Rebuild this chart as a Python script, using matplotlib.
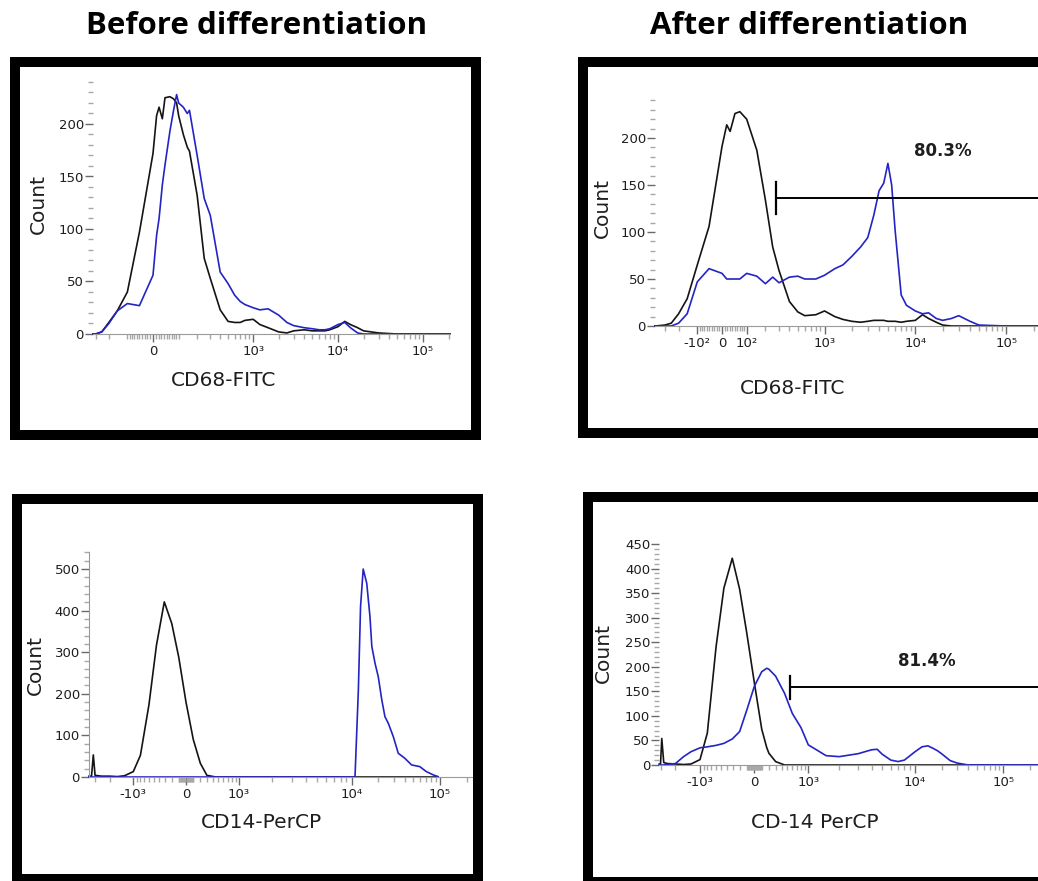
import numpy as np
import matplotlib
matplotlib.use("Agg")
import matplotlib.pyplot as plt
from matplotlib.patches import Rectangle
from matplotlib.ticker import FixedLocator, FixedFormatter, NullFormatter

plt.rcParams['font.family'] = ['DejaVu Sans']

W, H = 1038, 881

# ---- values (fluorescence, count) ----
# top left: CD68-FITC, before differentiation
cd68_pre_x = [-325, -300, -250, -200, -150, -100, -50, 0, 13, 22, 34, 44, 63, 78, 91, 100,
              122, 142, 154, 200, 250, 300, 400, 500, 600, 700, 800, 1000, 1200, 1500, 2000,
              2500, 3000, 4000, 5000, 6000, 7000, 8000, 10000, 12000, 14000, 17000, 20000,
              30000, 50000, 100000, 208000]
cd68_pre_ctrl = [0, 0, 2, 11, 22, 40, 97, 172, 208, 216, 205, 225, 226, 224, 220, 208,
                 190, 178, 174, 132, 72, 53, 23, 12, 11, 11, 13, 14, 9, 6, 2,
                 1, 3, 4, 3, 3, 3, 4, 7, 12, 9, 6, 3,
                 1, 0, 0, 0]
cd68_pre_stain = [0, 0, 2, 10, 22, 29, 27, 56, 94, 110, 142, 161, 193, 213, 228, 220,
                  216, 210, 213, 170, 129, 113, 59, 48, 37, 31, 28, 25, 23, 24, 18,
                  11, 8, 6, 5, 4, 4, 5, 9, 11, 6, 1, 0,
                  0, 0, 0, 0]

# top right: CD68-FITC, after differentiation
cd68_post_x = [-395, -300, -250, -200, -150, -100, -50, 0, 18, 31, 41, 50, 70, 100, 150, 200,
               250, 300, 400, 500, 600, 800, 1000, 1300, 1600, 2000, 2500, 3000, 3500, 4000,
               4500, 5000, 5500, 6000, 7000, 8000, 10000, 12000, 14000, 17000, 20000, 25000,
               30000, 40000, 50000, 100000, 262000]
cd68_post_ctrl = [0, 1, 3, 13, 29, 65, 106, 191, 214, 207, 217, 226, 228, 220, 187, 134,
                  84, 59, 26, 15, 11, 12, 16, 10, 7, 5, 4, 5, 6, 6,
                  6, 5, 5, 5, 4, 5, 6, 12, 8, 4, 1, 0,
                  0, 0, 0, 0, 0]
cd68_post_stain = [0, 0, 0, 3, 13, 47, 61, 56, 50, 50, 50, 50, 50, 56, 53, 45,
                   52, 46, 52, 53, 50, 50, 54, 61, 65, 74, 84, 94, 118, 144,
                   152, 173, 150, 102, 33, 22, 16, 13, 14, 8, 6, 8,
                   11, 5, 1, 0, 0]
cd68_post_gate = [275, 262000]
cd68_post_gate_y = 136
cd68_post_pct = "80.3%"

# bottom left: CD14-PerCP, before differentiation
cd14_pre_ctrl_x = [-3550, -3310, -3150, -3000, -2500, -2000, -1600, -1300, -1000, -800, -600,
                   -450, -315, -200, -100, 0, 100, 200, 300, 450, 600, 1000, 10000, 95000]
cd14_pre_ctrl = [2, 2, 53, 4, 2, 2, 1, 3, 13, 52, 173,
                 317, 421, 369, 288, 180, 90, 33, 4, 0, 0, 0, 0, 0]
cd14_pre_stain_x = [-3550, 10000, 10900, 11900, 12600, 13500, 14800, 16100, 16900, 18400, 20000,
                    21900, 23800, 26000, 29600, 33700, 40000, 47700, 59000, 70000, 84000, 95000]
cd14_pre_stain = [0, 0, 0, 209, 410, 500, 466, 386, 314, 273, 241,
                  186, 145, 129, 97, 57, 45, 29, 25, 13, 5, 1]

# bottom right: CD-14 PerCP, after differentiation
cd14_post_x = [-3100, -3000, -2900, -2750, -2500, -2000, -1600, -1300, -1000, -800, -600, -450,
               -310, -200, -100, 0, 100, 170, 200, 300, 450, 600, 800, 1000, 1500, 2000, 3000,
               4000, 4500, 5000, 6000, 7000, 8000, 10000, 12000, 14000, 16000, 18000, 20000,
               25000, 30000, 40000, 50000, 100000, 262144]
cd14_post_ctrl = [2, 2, 54, 5, 3, 2, 1, 2, 11, 65, 241, 360,
                  421, 358, 268, 168, 73, 35, 24, 7, 0, 0, 0, 0, 0, 0, 0,
                  0, 0, 0, 0, 0, 0, 0, 0, 0, 0, 0, 0,
                  0, 0, 0, 0, 0, 0]
cd14_post_stain = [0, 0, 0, 0, 1, 3, 17, 27, 35, 37, 40, 44,
                   53, 68, 112, 160, 190, 197, 195, 181, 146, 105, 76, 41, 19, 17, 23,
                   31, 32, 22, 10, 7, 10, 27, 37, 39, 34, 29, 23,
                   9, 4, 0, 0, 0, 0]
cd14_post_gate = [552, 262144]
cd14_post_gate_y = 158
cd14_post_pct = "81.4%"

BLACK = '#141414'
BLUE = '#2424c4'
TXT = '#1e1e1e'

fig = plt.figure(figsize=(W / 100, H / 100), dpi=100)


def biex(c, knots):
    # asinh-like display transform, pinned to where the decades sit on each plot
    u = np.arcsinh(np.array([k[0] for k in knots], float) / c)
    p = np.array([k[1] for k in knots], float)
    s0 = (p[1] - p[0]) / (u[1] - u[0])
    s1 = (p[-1] - p[-2]) / (u[-1] - u[-2])
    u = np.r_[u[0] - 40, u, u[-1] + 40]
    p = np.r_[p[0] - 40 * s0, p, p[-1] + 40 * s1]
    fwd = lambda v: np.interp(np.arcsinh(np.asarray(v, float) / c), u, p)
    inv = lambda q: c * np.sinh(np.interp(np.asarray(q, float), p, u))
    return fwd, inv


def box_px(x0, y0, x1, y1):
    fig.add_artist(Rectangle((x0 / W, 1 - y1 / H), (x1 - x0) / W, (y1 - y0) / H,
                             transform=fig.transFigure, fc='black', ec='none'))


def frame(x0, y0, x1, y1, t=10):
    box_px(x0, y0, x1, y0 + t)
    box_px(x0, y1 - t, x1, y1)
    box_px(x0, y0, x0 + t, y1)
    box_px(x1 - t, y0, x1, y1)


def ftext(x, y, s, **kw):
    fig.text(x / W, 1 - y / H, s, ha='center', va='center', **kw)


def panel(box, c, knots, ytop, ymaj, ystep, xmaj, xlab, xmin, yspine=False):
    l, r, t, b = box
    ax = fig.add_axes([l / W, 1 - b / H, (r - l) / W, (b - t) / H])
    ax.set_xscale('function', functions=biex(c, knots))
    ax.set_xlim(knots[0][0], knots[-1][0])
    ax.set_ylim(0, ytop)
    ax.patch.set_alpha(0)
    for s in ['top', 'right']:
        ax.spines[s].set_visible(False)
    ax.spines['left'].set_visible(yspine)
    ax.spines['left'].set_color('#9a9a9a')
    ax.spines['bottom'].set_color('#9a9a9a')
    ax.xaxis.set_major_locator(FixedLocator(xmaj))
    ax.xaxis.set_major_formatter(FixedFormatter(xlab))
    ax.xaxis.set_minor_locator(FixedLocator(xmin))
    ax.xaxis.set_minor_formatter(NullFormatter())
    ax.yaxis.set_major_locator(FixedLocator(ymaj))
    ax.yaxis.set_minor_locator(FixedLocator(np.arange(0, ytop + 1, ystep)))
    ax.yaxis.set_minor_formatter(NullFormatter())
    ax.tick_params(which='major', length=5.5, width=1.0, color='#6a6a6a',
                   labelsize=9.5, labelcolor=TXT)
    ax.tick_params(which='minor', length=3.5, width=1.0, color='#a8a8a8')
    ax.tick_params(axis='x', which='major', pad=2.5)
    ax.tick_params(axis='y', which='major', pad=1.0)
    return ax


lin = [s * v for v in range(10, 100, 10) for s in (-1, 1)]
logs = [m * 10 ** e for e in (2, 3, 4) for m in range(2, 10)] + [200000]
neg = [-v for v in range(100, 1000, 100)]

frame(10, 57, 481, 440)
frame(578, 57, 1070, 438)
frame(12, 494, 483, 884)
frame(583, 492, 1070, 887)

ftext(257, 26, 'Before differentiation', fontsize=22.5, fontweight='bold',
      family=['Open Sans', 'Lato', 'DejaVu Sans'])
ftext(809, 26, 'After differentiation', fontsize=22.5, fontweight='bold',
      family=['Open Sans', 'Lato', 'DejaVu Sans'])

# top left
ax1 = panel((93, 450, 82, 334), 133, [(-325, 93), (0, 153), (208000, 450)], 240,
            [0, 50, 100, 150, 200], 10, [0, 1000, 10000, 100000],
            ['0', '10³', '10⁴', '10⁵'], [-300, -200, -100, 100] + lin + logs)
ax1.plot(cd68_pre_x, cd68_pre_ctrl, color=BLACK, lw=1.2, clip_on=False)
ax1.plot(cd68_pre_x, cd68_pre_stain, color=BLUE, lw=1.2, clip_on=False)
ftext(224, 380, 'CD68-FITC', fontsize=14.5, color=TXT)
ftext(38, 204, 'Count', fontsize=14.5, rotation=90, color=TXT)

# top right
ax2 = panel((655, 1044.3, 100.4, 326), 150, [(-395, 655), (0, 722), (262144, 1044.3)], 240,
            [0, 50, 100, 150, 200], 10, [-100, 0, 100, 1000, 10000, 100000],
            ['-10²', '0', '10²', '10³', '10⁴', '10⁵'], [-300, -200] + lin + logs)
ax2.plot(cd68_post_x, cd68_post_ctrl, color=BLACK, lw=1.2, clip_on=False)
ax2.plot(cd68_post_x, cd68_post_stain, color=BLUE, lw=1.2, clip_on=False)
ax2.plot(cd68_post_gate, [cd68_post_gate_y] * 2, color='black', lw=1.4)
ax2.plot([cd68_post_gate[0]] * 2, [cd68_post_gate_y - 17, cd68_post_gate_y + 17],
         color='black', lw=1.6)
ftext(943, 151, cd68_post_pct, fontsize=12, fontweight='bold', color=TXT)
ftext(793, 388, 'CD68-FITC', fontsize=14.5, color=TXT)
ftext(602, 208, 'Count', fontsize=14.5, rotation=90, color=TXT)

# bottom left
ax3 = panel((89, 472, 552.4, 777), 500,
            [(-3550, 89), (-1000, 133.3), (0, 186), (1000, 239), (10000, 351.7),
             (100000, 440), (230000, 472)], 540,
            [0, 100, 200, 300, 400, 500], 20, [-1000, 0, 1000, 10000, 100000],
            ['-10³', '0', '10³', '10⁴', '10⁵'],
            [-3000, -2000] + neg + lin + [100] + logs, yspine=True)
ax3.plot(cd14_pre_ctrl_x, cd14_pre_ctrl, color=BLACK, lw=1.2, clip_on=False)
ax3.plot(cd14_pre_stain_x, cd14_pre_stain, color=BLUE, lw=1.2, clip_on=False)
ftext(262, 823, 'CD14-PerCP', fontsize=14.5, color=TXT)
ftext(35, 665, 'Count', fontsize=14.5, rotation=90, color=TXT)

# bottom right
ax4 = panel((659.3, 1040.3, 544, 765), 500,
            [(-3100, 659.3), (-1000, 700), (0, 754.3), (1000, 808.3), (10000, 915),
             (100000, 1003.3), (262144, 1040.3)], 450,
            [0, 50, 100, 150, 200, 250, 300, 350, 400, 450], 10,
            [-1000, 0, 1000, 10000, 100000], ['-10³', '0', '10³', '10⁴', '10⁵'],
            [-3000, -2000] + neg + lin + [100] + logs)
ax4.plot(cd14_post_x, cd14_post_ctrl, color=BLACK, lw=1.2, clip_on=False)
ax4.plot(cd14_post_x, cd14_post_stain, color=BLUE, lw=1.2, clip_on=False)
ax4.plot(cd14_post_gate, [cd14_post_gate_y] * 2, color='black', lw=1.4)
ax4.plot([cd14_post_gate[0]] * 2, [cd14_post_gate_y - 24, cd14_post_gate_y + 24],
         color='black', lw=1.6)
ftext(927, 661, cd14_post_pct, fontsize=12, fontweight='bold', color=TXT)
ftext(815, 822, 'CD-14 PerCP', fontsize=14.5, color=TXT)
ftext(603, 653, 'Count', fontsize=14.5, rotation=90, color=TXT)

fig.savefig('out.png', dpi=100)
